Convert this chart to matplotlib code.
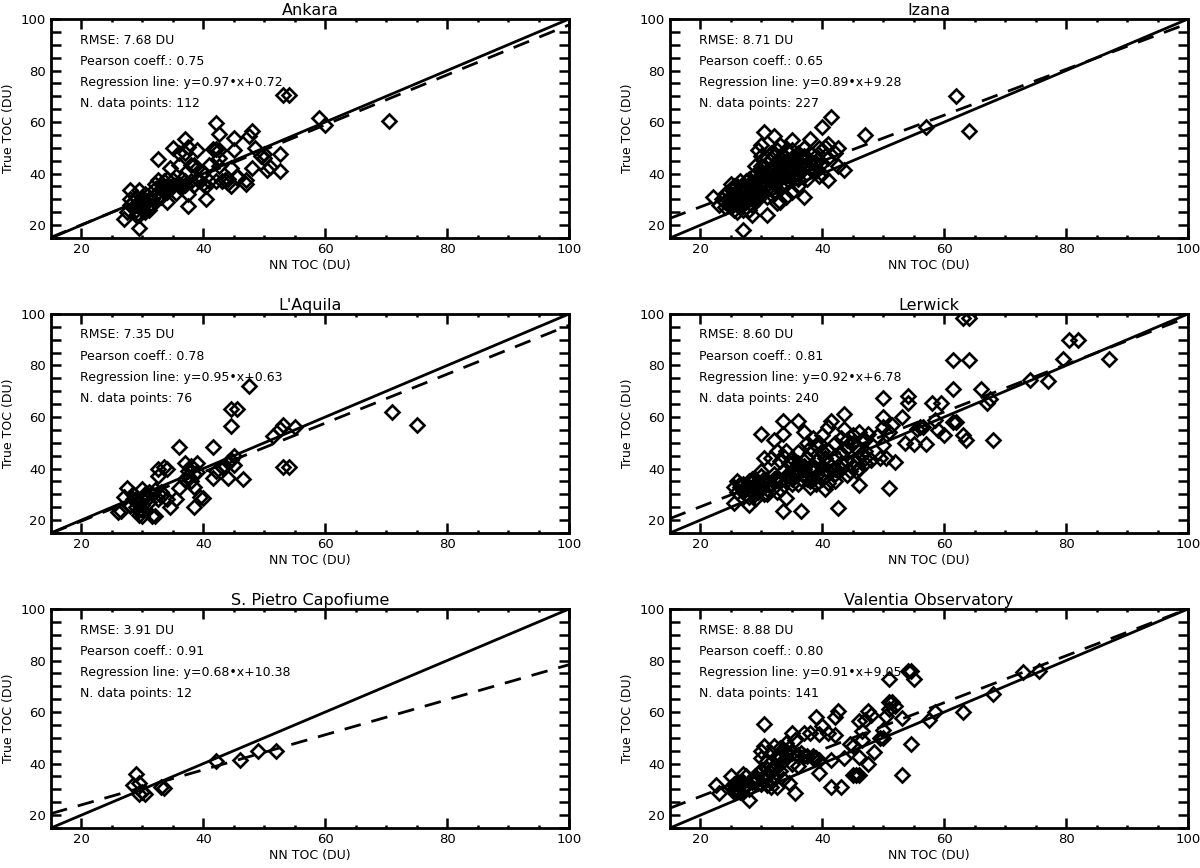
import numpy as np
import matplotlib.pyplot as plt
from matplotlib.ticker import MultipleLocator

plt.rcParams['font.family'] = ['DejaVu Sans']

titles = ['Ankara', 'Izana', "L'Aquila", 'Lerwick', 'S. Pietro Capofiume', 'Valentia Observatory']
rmse = [7.68, 8.71, 7.35, 8.60, 3.91, 8.88]
pearson = [0.75, 0.65, 0.78, 0.81, 0.91, 0.80]
slope = [0.97, 0.89, 0.95, 0.92, 0.68, 0.91]
icpt = [0.72, 9.28, 0.63, 6.78, 10.38, 9.05]
npts = [112, 227, 76, 240, 12, 141]

# (NN TOC, True TOC) pairs
ankara = [(27, 22.5), (27.5, 25), (28, 30), (28, 33.5), (28.5, 27), (29, 26), (29, 28),
          (29.5, 33.5), (29.5, 19), (29.5, 24), (30, 27), (30, 30), (30, 29), (30.5, 25),
          (30.5, 32), (31, 26), (31, 28), (31.5, 28), (28.5, 29), (29, 31), (30, 26),
          (29.5, 29), (31, 27), (32, 34), (32.5, 45.5), (32.5, 37.5), (33, 36), (33, 31),
          (33.5, 33), (34, 29), (34, 38), (34.5, 42), (34, 35), (35, 50), (35, 37.5),
          (35.5, 32.5), (36, 48), (36, 43.5), (36.5, 38), (36, 36), (37, 53.5), (37, 48),
          (37, 37), (37.5, 50.5), (37.5, 32), (37.5, 27.5), (38, 43.5), (38.5, 43.5),
          (38.5, 35.5), (39, 49), (39, 42), (39.5, 37), (39, 38), (40, 40.5), (40.5, 30),
          (40.5, 35), (40, 36), (41, 43.5), (41.5, 49.5), (42, 59.5), (42, 49.5), (42, 37),
          (42.5, 55.5), (42.5, 49), (42.5, 46), (42.5, 43), (43, 37), (43.5, 37.5), (44, 36.5),
          (44.5, 42), (44.5, 35), (45, 54), (45, 49), (45.5, 39), (45.5, 38.5), (47, 36),
          (47, 37.5), (47.5, 54.5), (48, 56.5), (48, 42), (48.5, 50), (49.5, 47), (50, 47.5),
          (50.5, 41.5), (51, 42.5), (50, 46), (52.5, 47.5), (52.5, 41), (53, 70.5), (54, 70.5),
          (59, 61.5), (60, 59), (70.5, 60.5), (33, 34), (34, 33), (36, 35), (38, 37),
          (32, 36), (31, 30), (30, 31), (29, 24), (28, 28), (29.5, 27.5), (30.5, 28.5),
          (31.5, 30), (32.5, 33), (33.5, 37), (35, 35.5), (37, 35.5), (41, 37), (44, 38)]

izana = [(22, 31), (23, 28), (24, 29), (24, 32), (25, 36), (25, 34), (25, 27), (25.5, 26),
         (26, 33), (26, 30), (26, 28), (26.5, 37), (26.5, 31), (27, 18), (27, 35), (27, 32),
         (27.5, 29), (27.5, 34), (28, 36), (28, 26), (28, 31), (28.5, 24), (28.5, 33), (29, 40),
         (29, 30), (29, 35), (29.5, 49), (29.5, 38), (30, 51), (30, 36), (30, 33), (30, 41),
         (30.5, 56), (30.5, 43), (31, 38), (31, 24), (31, 46), (31, 34), (31.5, 32), (31.5, 42),
         (32, 54.5), (32, 47), (32, 40), (32, 36), (32.5, 28.5), (32.5, 44), (33, 51), (33, 44),
         (33, 38), (33.5, 36), (33.5, 47), (34, 49), (34, 42), (34, 39), (34.5, 45), (35, 53),
         (35, 46), (35, 33), (35.5, 40), (35.5, 44), (36, 48), (36, 35), (36, 42), (36.5, 44),
         (37, 31), (37, 50), (37, 42), (37.5, 38), (37.5, 46), (38, 53.5), (38, 45), (38.5, 41),
         (39, 44), (39.5, 50), (40, 58), (40, 40), (40.5, 50.5), (41, 51.5), (41, 46),
         (41, 37.5), (41.5, 62), (42, 48), (42.5, 50), (42.5, 43), (43.5, 41.5), (47, 55),
         (57, 58), (62, 70), (64, 56.5), (24.5, 30), (25.5, 30), (26, 25), (27, 29), (28, 30),
         (29, 37), (30, 39), (31, 41), (32, 37), (33, 46), (34, 39), (35, 43), (36, 38),
         (37, 45), (30, 43), (31, 31), (33, 29), (34, 31),
         (23.5, 30), (24, 27), (24.5, 33), (25, 31), (25.5, 35), (26, 35), (26.5, 27),
         (27, 26), (27.5, 37), (27.5, 31), (28, 33), (28.5, 35), (28.5, 28), (29, 32),
         (29.5, 34), (29.5, 30), (30, 35), (30, 47), (30.5, 37), (30.5, 40), (31, 44),
         (31, 36), (31.5, 48), (31.5, 38), (32, 42), (32, 33), (32.5, 39), (32.5, 49),
         (33, 41), (33, 35), (33.5, 43), (33.5, 40), (34, 45), (34, 36), (34.5, 41),
         (34.5, 48), (35, 39), (35, 49), (35.5, 47), (36, 45), (36, 40), (36.5, 47),
         (36.5, 41), (37, 47), (37, 39), (37.5, 43), (38, 42), (38, 48), (38.5, 44),
         (39, 47), (39, 41), (39.5, 39), (40, 49), (40, 44), (26.5, 34), (28, 38),
         (29, 43), (27, 33), (25.5, 32)]

laquila = [(26, 23), (26.5, 23.5), (27, 29), (27.5, 32.5), (28, 26), (28.5, 30), (29, 28),
           (29.5, 24), (29.5, 22), (30, 26), (30, 32), (30, 21.5), (30.5, 30), (31, 27),
           (31, 31), (31.5, 21.5), (32, 21.5), (32, 31.5), (32.5, 28), (32.5, 40), (32.5, 37),
           (33, 31), (33.5, 40.5), (34, 40), (34, 28), (34.5, 25), (35.5, 28), (36, 32.5),
           (36, 48.5), (37, 36), (37, 42), (37.5, 39), (38, 35), (38, 41), (38.5, 38),
           (38.5, 25), (38.5, 33), (39, 42), (39.5, 29), (40, 28.5), (41.5, 48.5), (41.5, 36.5),
           (42, 39), (43.5, 41), (44, 42.5), (44, 36.5), (44.5, 43.5), (44.5, 56.5), (44.5, 63),
           (45, 41.5), (45, 45), (45.5, 63), (46.5, 36), (47.5, 72), (51.5, 52.5), (52.5, 55.5),
           (53, 57), (53, 40.5), (54, 40.5), (55, 56), (71, 62), (75, 57), (29, 25), (31, 29),
           (30, 24), (28, 25.5), (33, 29.5), (37.5, 37), (43, 40.5), (39, 38.5), (29.5, 27),
           (30.5, 29), (28.5, 28), (31.5, 30)]

spietro = [(29, 36), (28.5, 31.5), (29.5, 32.5), (29.5, 28), (30, 29), (30.5, 28), (33, 31),
           (33.5, 30.5), (42, 41), (46, 41.5), (49, 45), (52, 45)]

lerwick = [(25.5, 33), (25.5, 26.5), (26, 31), (26.5, 34), (27, 34), (27.5, 30), (28, 26),
           (28.5, 33), (29, 28), (29, 36), (29.5, 31), (30, 53.5), (30, 39), (30.5, 44),
           (30.5, 30), (31, 35), (31.5, 44), (32, 51), (32, 38), (32.5, 47), (32.5, 31), (33, 43),
           (33.5, 58.5), (33.5, 53.5), (33.5, 39), (33.5, 23.5), (34, 47), (34, 28.5), (35, 42),
           (35, 34), (35.5, 40), (36, 58.5), (36, 46.5), (36.5, 23.5), (37, 54), (37, 41),
           (37.5, 50), (37.5, 36), (38, 46), (38, 33), (38.5, 52), (39, 49), (39, 37), (39.5, 44),
           (40, 53), (40, 41), (40.5, 32), (41, 56), (41, 47), (41, 34.5), (41.5, 58.5), (42, 50),
           (42, 38), (42.5, 24.5), (43, 46), (43, 40), (43.5, 61), (43.5, 55.5), (44, 51),
           (44, 37.5), (45, 53), (45, 43), (45.5, 48), (46, 54), (46, 40), (46, 33.5), (46.5, 51),
           (47, 47), (47.5, 53.5), (47, 44), (48, 43.5), (49, 52.5), (49.5, 44), (50, 67.5),
           (50, 60), (50, 56), (50, 49), (50.5, 44), (51, 54), (51, 32.5), (51.5, 57), (52, 42.5),
           (53, 60), (53.5, 50), (54, 68), (54, 65.5), (55, 49.5), (56, 56), (57, 49.5),
           (58, 65.5), (58.5, 59), (59, 55), (59.5, 65.5), (60, 53), (61.5, 82), (61.5, 71),
           (61.5, 58), (62, 58), (63, 98.5), (63, 53), (63.5, 51), (64, 98.5), (64, 82), (66, 71),
           (67, 65.5), (67.5, 67), (68, 51), (74, 74.5), (77, 74), (79.5, 82.5), (80.5, 90),
           (82, 90), (87, 82.5), (56.5, 56), (55.5, 55.5), (27, 32), (28, 35), (29, 33),
           (30, 34), (31, 32), (32, 36), (33, 35), (34, 37), (35, 36), (36, 38), (37, 40),
           (38, 35), (39, 40), (40, 38), (41, 42), (42, 40), (43, 42), (44, 43), (45, 41),
           (46, 44), (47, 42), (28.5, 31), (30.5, 36), (34.5, 38), (36, 42), (38.5, 40),
           (40.5, 37), (44.5, 39), (26.5, 33),
           (26, 35), (27, 31), (27.5, 33), (28, 29), (28.5, 36), (29, 30), (29.5, 34),
           (30, 32), (30, 37), (31, 30), (31.5, 34), (32, 33), (32.5, 36), (33, 32), (33.5, 45),
           (34, 35), (34.5, 42), (35, 39), (35.5, 37), (36, 34), (36.5, 41), (37, 38), (37.5, 44),
           (38, 48), (38.5, 36), (39, 34), (39.5, 50), (40, 36), (40, 47), (40.5, 44), (41, 39),
           (41.5, 41), (42, 45), (42.5, 39), (43, 52), (44, 48), (45, 50), (45.5, 39),
           (46.5, 46), (47, 51), (42, 35), (39, 43), (36.5, 36), (35, 44)]

valentia = [(22.5, 31.5), (23, 28.5), (25, 35), (25.5, 30), (26, 32), (26.5, 29), (27, 36),
            (27, 31), (28, 26), (28.5, 33), (29, 35), (29.5, 36.5), (30, 45), (30, 32),
            (30.5, 55.5), (30.5, 47), (31, 41), (31, 35), (31.5, 44), (31.5, 31), (32, 39),
            (32.5, 43), (33, 46), (33, 37), (33.5, 34), (34, 48), (34, 44), (34.5, 32.5),
            (35, 52), (35, 40), (35.5, 28.5), (35.5, 49), (36, 43.5), (36, 39), (37, 52),
            (37, 43), (38, 52), (38.5, 42), (39, 58), (39.5, 51.5), (39.5, 41.5), (39.5, 36.5),
            (40, 54.5), (41, 52), (41.5, 41.5), (41.5, 31), (42, 58), (42, 51), (42.5, 60.5),
            (43, 31), (43.5, 42), (44.5, 47.5), (45, 47), (45.5, 35.5), (45, 35.5), (46, 35.5),
            (46, 42.5), (46, 56.5), (46.5, 52.5), (46.5, 49), (47, 57), (47.5, 40), (47.5, 60.5),
            (48, 59), (48.5, 44.5), (49.5, 50), (50, 53), (50, 50), (50.5, 58.5), (51, 64),
            (51.5, 64), (51, 61), (52, 62.5), (51, 73), (53, 57.5), (53, 35.5), (54, 76),
            (54.5, 76), (54.5, 47.5), (55, 73), (57.5, 57), (58.5, 60), (63, 60), (68, 67),
            (73, 75.5), (75.5, 76), (25, 31), (26, 30), (27, 33), (28, 30), (29, 34), (30, 37),
            (31, 36), (32, 38), (33, 40), (34, 42), (35, 44), (36, 43), (26, 33), (27.5, 35),
            (29, 33), (31, 38), (32.5, 42), (34, 45),
            (25.5, 32), (26, 29.5), (26.5, 31.5), (27, 30), (25.5, 29), (26.5, 33), (30.5, 34),
            (31, 31.5), (31.5, 33), (32, 35), (32.5, 31), (33, 43), (34.5, 46), (36.5, 44),
            (37.5, 43), (38.5, 43), (39, 42), (30, 42), (32, 47), (33.5, 45.5)]

stations = [ankara, izana, laquila, lerwick, spietro, valentia]

fig = plt.figure(figsize=(12, 8.68), dpi=100)
lefts = [0.0425, 0.5583]
bottoms = [0.7258, 0.386, 0.0461]
w, h = 0.4317, 0.2523

for i in range(6):
    r, c = divmod(i, 2)
    ax = fig.add_axes([lefts[c], bottoms[r], w, h])
    px, py = zip(*stations[i])
    ax.plot(px, py, 'D', ms=7, mfc='none', mec='k', mew=1.9)
    line = np.array([15, 100])
    ax.plot(line, line, 'k-', lw=2)
    ax.plot(line, slope[i] * line + icpt[i], 'k--', lw=2, dashes=(6, 4))
    ax.set_xlim(15, 100)
    ax.set_ylim(15, 100)
    ax.xaxis.set_major_locator(MultipleLocator(20))
    ax.xaxis.set_minor_locator(MultipleLocator(5))
    ax.yaxis.set_major_locator(MultipleLocator(20))
    ax.yaxis.set_minor_locator(MultipleLocator(5))
    ax.tick_params(which='both', direction='in', top=True, right=True, width=1.8, labelsize=9.5)
    ax.tick_params(axis='x', which='major', length=7)
    ax.tick_params(axis='x', which='minor', length=2)
    ax.tick_params(axis='y', which='both', length=7)
    for s in ax.spines.values():
        s.set_linewidth(2)
    ax.set_title(titles[i], fontsize=11.5, pad=3)
    ax.set_xlabel('NN TOC (DU)', fontsize=9, labelpad=2)
    ax.set_ylabel('True TOC (DU)', fontsize=9, labelpad=4)
    lines = ['RMSE: %.2f DU' % rmse[i],
             'Pearson coeff.: %.2f' % pearson[i],
             'Regression line: y=%.2f\u2022x+%.2f' % (slope[i], icpt[i]),
             'N. data points: %d' % npts[i]]
    for j, t in enumerate(lines):
        ax.text(0.056, 0.904 - 0.096 * j, t, transform=ax.transAxes,
                fontsize=9, va='center', ha='left')

fig.savefig('out.png', dpi=100)
